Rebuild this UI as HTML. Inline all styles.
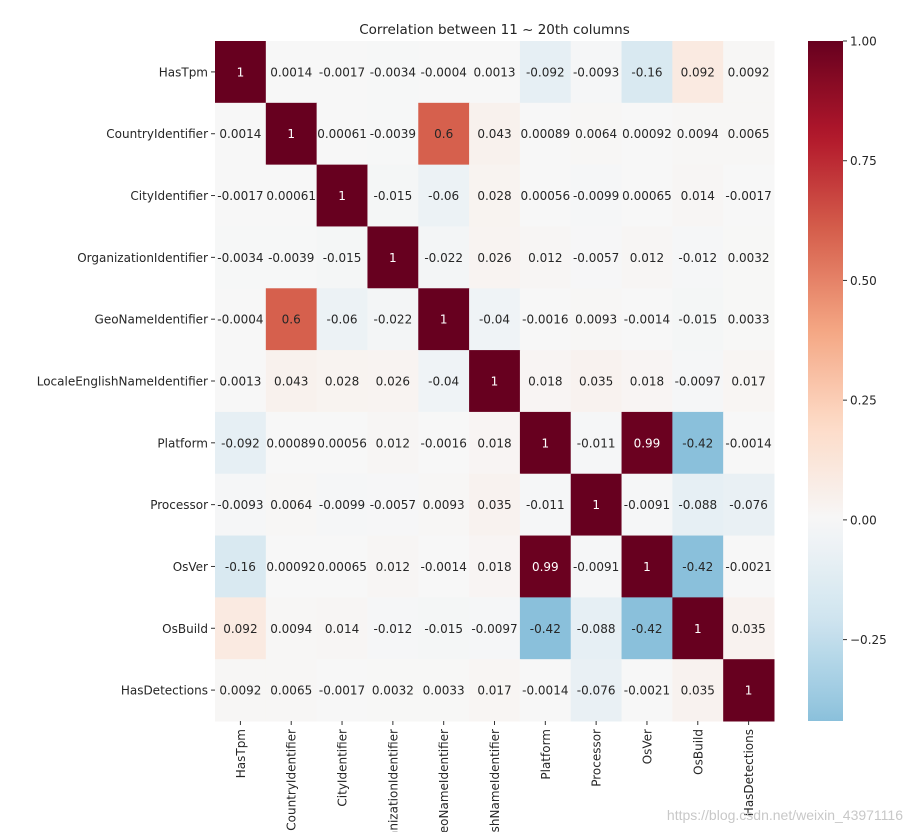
<!DOCTYPE html>
<html><head><meta charset="utf-8"><style>
html,body{margin:0;background:#fff;width:912px;height:832px;overflow:hidden;font-family:"DejaVu Sans","Liberation Sans",sans-serif}
svg{display:block;overflow:hidden}
</style></head><body>
<svg id="chart" width="912" height="832" xmlns="http://www.w3.org/2000/svg" font-family="DejaVu Sans, Liberation Sans, sans-serif"></svg>
<script>
const labels=["HasTpm","CountryIdentifier","CityIdentifier","OrganizationIdentifier","GeoNameIdentifier","LocaleEnglishNameIdentifier","Platform","Processor","OsVer","OsBuild","HasDetections"];
const row0=["1","0.0014","-0.0017","-0.0034","-0.0004","0.0013","-0.092","-0.0093","-0.16","0.092","0.0092"];
const row1=["0.0014","1","0.00061","-0.0039","0.6","0.043","0.00089","0.0064","0.00092","0.0094","0.0065"];
const row2=["-0.0017","0.00061","1","-0.015","-0.06","0.028","0.00056","-0.0099","0.00065","0.014","-0.0017"];
const row3=["-0.0034","-0.0039","-0.015","1","-0.022","0.026","0.012","-0.0057","0.012","-0.012","0.0032"];
const row4=["-0.0004","0.6","-0.06","-0.022","1","-0.04","-0.0016","0.0093","-0.0014","-0.015","0.0033"];
const row5=["0.0013","0.043","0.028","0.026","-0.04","1","0.018","0.035","0.018","-0.0097","0.017"];
const row6=["-0.092","0.00089","0.00056","0.012","-0.0016","0.018","1","-0.011","0.99","-0.42","-0.0014"];
const row7=["-0.0093","0.0064","-0.0099","-0.0057","0.0093","0.035","-0.011","1","-0.0091","-0.088","-0.076"];
const row8=["-0.16","0.00092","0.00065","0.012","-0.0014","0.018","0.99","-0.0091","1","-0.42","-0.0021"];
const row9=["0.092","0.0094","0.014","-0.012","-0.015","-0.0097","-0.42","-0.088","-0.42","1","0.035"];
const row10=["0.0092","0.0065","-0.0017","0.0032","0.0033","0.017","-0.0014","-0.076","-0.0021","0.035","1"];
const rows=[row0,row1,row2,row3,row4,row5,row6,row7,row8,row9,row10];
const cbTicks=[1.0,0.75,0.5,0.25,0.0,-0.25];
const vmin=-0.42, vmax=1.0;

const NS="http://www.w3.org/2000/svg";
const svg=document.getElementById('chart');
const X0=215,X1=774,Y0=41,Y1=721;
const n=labels.length, cw=(X1-X0)/n, ch=(Y1-Y0)/n;
const stops=["#053061","#2166ac","#4393c3","#92c5de","#d1e5f0","#f7f7f7","#fddbc7","#f4a582","#d6604d","#b2182b","#67001f"];
function hex(h){return [1,3,5].map(i=>parseInt(h.substr(i,2),16));}
function cmap(t){t=Math.max(0,Math.min(1,t));const p=t*10,i=Math.min(9,Math.floor(p)),f=p-i;const a=hex(stops[i]),b=hex(stops[i+1]);return "rgb("+a.map((v,k)=>Math.round(v+(b[k]-v)*f)).join(",")+")";}
function color(v){return cmap((v+1)/2);}
function lum(v){const c=color(v).match(/\d+/g).map(Number);return 0.299*c[0]+0.587*c[1]+0.114*c[2];}
function el(tag,attrs,text,parent){const e=document.createElementNS(NS,tag);for(const k in attrs)e.setAttribute(k,attrs[k]);if(text!==undefined)e.textContent=text;(parent||svg).appendChild(e);return e;}
const xs=i=>X0+i*cw, ys=j=>Y0+j*ch;

const defs=el('defs',{});
const cp=document.createElementNS(NS,'clipPath');cp.setAttribute('id','frame');
const cpr=document.createElementNS(NS,'rect');cpr.setAttribute('x',0);cpr.setAttribute('y',0);cpr.setAttribute('width',912);cpr.setAttribute('height',832);
cp.appendChild(cpr);defs.appendChild(cp);
const root=el('g',{'clip-path':'url(#frame)'});

const title=el('text',{x:(X0+X1)/2,y:34,'text-anchor':'middle','font-size':13.5,fill:'#222'},'Correlation between 11 ~ 20th columns',root);



rows.forEach((r,j)=>{r.forEach((s,i)=>{const v=parseFloat(s);
 const c=el('rect',{x:xs(i),y:ys(j),width:cw+0.5,height:ch+0.5,fill:color(v)},undefined,root);
 
 
 const t=el('text',{x:xs(i)+cw/2,y:ys(j)+ch/2+4.5,'text-anchor':'middle','font-size':12,fill:lum(v)<128?'#fff':'#262626'},s,root);
 
 
});});

const xl=el('g',{'clip-path':'url(#frame)'},undefined,root);
labels.forEach((l,j)=>{
 const y=ys(j)+ch/2;
 el('line',{x1:X0-4,x2:X0,y1:y,y2:y,stroke:'#333'},undefined,root);
 const t=el('text',{x:X0-7,y:y+4.5,'text-anchor':'end','font-size':12,fill:'#262626'},l,root);
 
 
 const x=xs(j)+cw/2;
 el('line',{x1:x,x2:x,y1:Y1,y2:Y1+4,stroke:'#333'},undefined,root);
 const u=el('text',{x:x+4.5,y:Y1+8,'text-anchor':'end','font-size':12,fill:'#262626',transform:`rotate(-90 ${x+4.5} ${Y1+8})`},l,xl);
 
 
});

const CX0=808,CX1=843,CY0=41,CY1=721;
const cy=v=>CY0+(vmax-v)/(vmax-vmin)*(CY1-CY0);
const g=document.createElementNS(NS,'linearGradient');g.setAttribute('id','cbg');g.setAttribute('x1','0');g.setAttribute('y1','1');g.setAttribute('x2','0');g.setAttribute('y2','0');
for(let k=0;k<=40;k++){const v=vmin+(vmax-vmin)*k/40;const s=document.createElementNS(NS,'stop');s.setAttribute('offset',k/40);s.setAttribute('stop-color',color(v));g.appendChild(s);}
defs.appendChild(g);
const cb=el('rect',{x:CX0,y:CY0,width:CX1-CX0,height:CY1-CY0,fill:'url(#cbg)'},undefined,root);


cbTicks.forEach(v=>{const y=cy(v);
 el('line',{x1:CX1,x2:CX1+4,y1:y,y2:y,stroke:'#333'},undefined,root);
 const t=el('text',{x:CX1+7,y:y+4.5,'font-size':12,fill:'#262626'},(v<0?'\u22120':'')+(v<0?Math.abs(v).toFixed(2).slice(1):v.toFixed(2)),root);
 
 
});
const wm=el('text',{x:903,y:820,'text-anchor':'end','font-size':14,fill:'#c8c8c8','font-family':'Liberation Sans, sans-serif'},'https://blog.csdn.net/weixin_43971116',root);


</script>
</body></html>
